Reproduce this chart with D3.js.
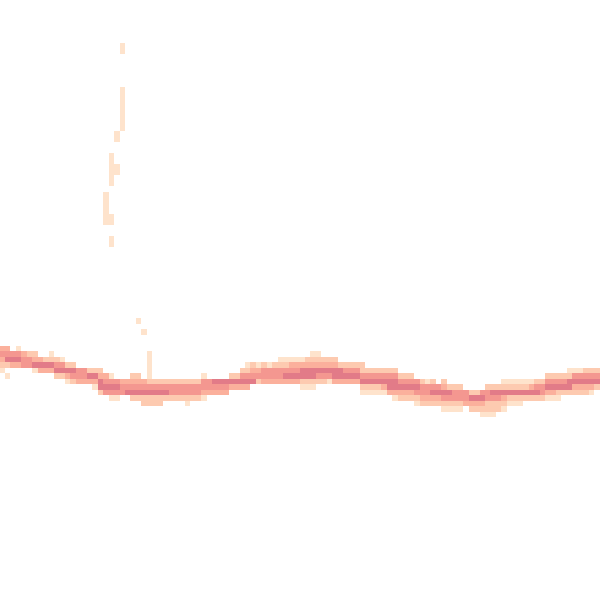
<!DOCTYPE html>
<html>
<head>
<meta charset="utf-8">
<script src="https://cdn.jsdelivr.net/npm/d3@7"></script>
<style>
  html, body { margin: 0; padding: 0; background: #ffffff; }
  svg { display: block; }
</style>
</head>
<body>
<div id="chart"></div>
<script>
// Density grid: 110 x-bins (columns), y-bins (rows). Each column lists the
// first occupied row and the density level of consecutive rows (0 = empty).
const bandTop = [
  63,63,63,63,64,64,64,65,65,64, 65,65,66,66,67,67,67,67,67,68,
  68,68,69,69,68,68,69,64,69,69, 69,69,69,69,69,69,69,68,68,68,
  68,68,67,67,66,66,66,66,66,66, 66,65,65,65,65,65,65,64,64,65,
  65,65,66,66,66,66,66,67,67,67, 67,67,67,68,68,68,69,69,69,69,
  69,69,69,70,70,70,70,70,70,70, 70,70,69,69,69,69,69,69,69,69,
  68,68,68,68,67,67,67,67,67,67
];
const bandLevels = [
  "34321","345201","0453","1453","344","244","2351","353","253","1253",
  "2452","1452","2531","2542","443","443","253","2531","23552","3454",
  "14541","04541","344","345","23452","23452","34522","1111124522","24522","24522",
  "2452","2442","2442","2442","24421","2442","2442","14431","0443","0543",
  "0543","0543","0253","0253","02453","12453","2345","1342","2443","1443",
  "2443","12443","12453","13453","13453","135521","235521","1235521","123542","23542",
  "23541","23553","2553","2453","2453","2453","224521","24521","24521","24521",
  "24531","24553","245531","24532","24532","24532","45421","24432","14432","24532",
  "04532","235421","025421","24421","24421","0443","02532","02532","045321","244221",
  "254221","25422","125321","12521","12521","12521","1252","1352","2452","2442",
  "24531","24531","24521","2452","12552","14532","14532","24532","24531","2452"
];
// Sparse light cells of the tall spike: [column, row, level]
const spikeCells = [
  [22,8,1],[22,9,1],
  [22,16,1],[22,17,1],[22,18,1],[22,19,1],[22,20,1],[22,21,1],[22,22,1],[22,23,1],
  [21,24,1],[21,25,1],
  [20,28,1],[20,29,1],[20,30,1],[20,31,1],[20,32,1],[20,33,1],
  [21,30,1],[21,31,1],
  [19,35,1],[19,36,1],[19,37,1],[19,38,1],[19,39,1],[19,40,1],
  [20,39,1],[20,40,1],
  [20,43,1],[20,44,1],
  [25,58,1],[26,60,1]
];
const levelDomain = [1, 2, 3, 4, 5];
const levelColors = ["#fee3cc", "#fdcab0", "#fbb09c", "#f49790", "#e27b88"];

const W = 600, H = 600;
const nCols = 110, nRows = 110;

const cells = [];
bandTop.forEach((top, c) => {
  bandLevels[c].split("").forEach((ch, i) => {
    const v = +ch;
    if (v > 0) cells.push({ col: c, row: top + i, level: v });
  });
});
spikeCells.forEach(([c, r, v]) => cells.push({ col: c, row: r, level: v }));

const x = d3.scaleLinear().domain([0, nCols]).range([-0.5, 599.5]);
const y = d3.scaleLinear().domain([0, nRows]).range([-0.9, 604.1]);
const color = d3.scaleLinear().domain(levelDomain).range(levelColors);

const svg = d3.select("#chart").append("svg")
  .attr("width", W).attr("height", H)
  .attr("shape-rendering", "crispEdges");

svg.append("rect").attr("width", W).attr("height", H).attr("fill", "#ffffff");

svg.append("g").selectAll("rect")
  .data(cells)
  .join("rect")
  .attr("x", d => x(d.col))
  .attr("y", d => y(d.row))
  .attr("width", x(1) - x(0))
  .attr("height", y(1) - y(0))
  .attr("fill", d => color(d.level));
</script>
</body>
</html>
